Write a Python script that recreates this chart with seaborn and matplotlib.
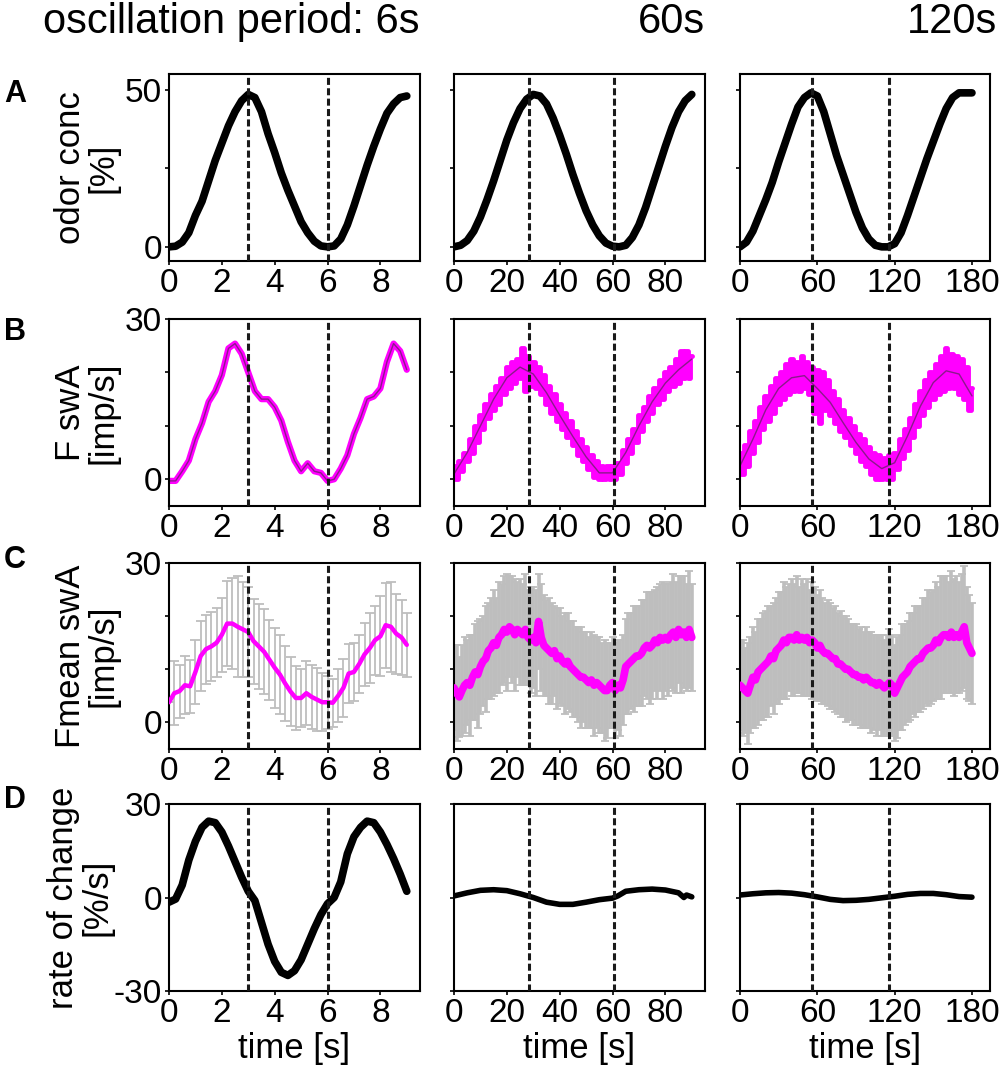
import numpy as np
import pandas as pd
import matplotlib
matplotlib.use("Agg")
import matplotlib.pyplot as plt
import seaborn as sns

# ---------------- data ----------------
col_titles = ["oscillation period: 6s", "60s", "120s"]
row_letters = ["A", "B", "C", "D"]
row_ylabels = ["odor conc\n[%]", "F swA\n[imp/s]", "Fmean swA\n[imp/s]", "rate of change\n[%/s]"]

xticks = [[0, 2, 4, 6, 8], [0, 20, 40, 60, 80], [0, 60, 120, 180]]
xlims = [(0, 9.5), (0, 95), (0, 194)]
dash_x = [[3, 6], [28.5, 60.5], [55.5, 116]]

# A: odor concentration
tA1 = np.arange(0, 9.01, 0.25)
A1 = [0, 0.2, 1.5, 4.5, 10, 14.5, 21, 27.5, 33, 38.5, 43, 46.5, 48.5, 47.5, 43, 36,
      30, 23.5, 18, 13, 8, 4.5, 1.8, 0.3, 0, 0.3, 2.5, 7, 13, 19.5, 26, 32, 37.5, 42.5,
      45.5, 47.5, 48]
tA2 = np.arange(0, 90.01, 2.5)
A2 = [0, 0.5, 2, 5, 9.5, 15, 21, 27.5, 34, 39.5, 44, 47, 48.5, 48, 45.5, 41, 35.5, 29.5,
      23, 17, 11.5, 7, 3.5, 1.2, 0.2, 0, 0.5, 3, 7, 12.5, 19, 25.5, 32, 38, 43, 46.5, 48.5]
tA3 = np.arange(0, 180.01, 5)
A3 = [0, 1.5, 5, 10, 15, 20.5, 27, 33, 39, 44.5, 47.5, 49, 48, 43, 36, 29, 23, 17, 11, 6,
      2.5, 0.5, 0, 0, 1.0, 4.5, 10, 16, 22, 28, 33.5, 39, 44, 47.5, 49, 49, 49]

# B: single fibre response
tB1 = np.arange(0, 9.01, 0.25)
B1 = [-0.3, -0.3, 1.5, 3.5, 7.5, 10.5, 14.5, 16.5, 19.5, 24.5, 25.4, 23.5, 20.0, 16.5,
      15.0, 15.0, 13.5, 11.0, 7.0, 3.5, 1.5, 3.0, 1.5, 1.2, -0.3, 0.0, 2.0, 4.5, 8.5,
      11.5, 15.0, 15.5, 17.0, 22.0, 25.4, 24.0, 20.5]
tB2 = np.arange(0, 90.01, 1)
B2 = [2.5, 0.0, 3.5, 1.5, 5.0, 3.5, 7.5, 5.0, 10.0, 7.0,
      12.0, 9.5, 14.0, 11.5, 16.0, 13.0, 17.5, 14.0, 19.0, 16.0,
      21.0, 17.0, 22.0, 18.0, 22.5, 19.0, 24.5, 16.5, 23.0, 17.5,
      22.0, 17.0, 21.0, 16.0, 19.5, 14.0, 17.5, 12.5, 16.0, 11.0,
      14.0, 9.5, 12.5, 8.0, 11.0, 6.5, 9.0, 4.5, 7.5, 3.5,
      6.0, 2.0, 4.5, 0.5, 3.5, 0.0, 2.5, 0.0, 2.5, 0.0,
      2.5, 0.0, 3.0, 1.0, 5.5, 3.0, 7.5, 5.0, 9.5, 7.0,
      12.0, 9.0, 13.5, 11.0, 15.5, 12.5, 17.0, 14.0, 18.5, 15.0,
      20.0, 16.5, 21.0, 17.5, 22.5, 18.0, 24.0, 19.0, 24.0, 19.0,
      23.0]
tB3 = np.arange(0, 180.01, 2)
B3 = [5.0, 1.0, 6.5, 2.5, 9.0, 5.0, 11.0, 7.0, 13.5, 9.5,
      15.5, 11.0, 17.5, 12.5, 19.0, 14.0, 20.0, 15.0, 21.5, 16.0,
      22.5, 16.5, 22.0, 16.5, 23.0, 17.0, 22.0, 16.0, 21.0, 12.5,
      20.5, 10.5, 20.0, 13.0, 18.5, 12.0, 16.5, 10.5, 15.0, 9.0,
      13.0, 8.0, 11.5, 6.5, 10.0, 5.0, 8.5, 3.5, 7.5, 2.5,
      6.0, 1.0, 5.0, 0.0, 4.5, 0.0, 4.0, 0.0, 4.5, 0.0,
      5.0, 2.0, 7.5, 4.0, 9.5, 5.5, 11.5, 8.0, 14.0, 10.0,
      16.5, 12.0, 18.5, 13.5, 20.0, 15.0, 21.5, 16.0, 23.0, 16.5,
      24.5, 17.0, 23.5, 17.0, 23.0, 16.0, 22.5, 15.0, 21.0, 13.0,
      17.0]
tFit2 = np.arange(0, 90.01, 5)
fit2 = [1.0, 5.0, 10.0, 15.0, 19.0, 21.0, 19.7, 16.2, 12.0, 8.0, 4.2, 1.2, 1.2, 5.0,
        10.0, 14.5, 18.0, 20.5, 22.5]
tFit3 = np.arange(0, 180.01, 10)
fit3 = [2.5, 7.5, 13.0, 17.0, 19.0, 19.4, 17.0, 14.4, 10.6, 6.9, 3.8, 2.0, 3.1, 8.1,
        13.7, 18.1, 20.3, 19.7, 15.6]

# C: mean response +- SD
tC1 = np.arange(0, 9.01, 0.2)
C1 = [3.8, 5.5, 5.9, 7.0, 6.8, 9.5, 12.5, 13.8, 14.3, 15.0, 16.5, 18.6, 18.6, 18.0, 17.5,
      17.0, 15.3, 14.3, 13.3, 11.8, 10.3, 9.0, 7.3, 5.8, 4.6, 4.6, 5.5, 4.8, 4.3, 3.8,
      3.8, 3.7, 5.0, 6.5, 9.2, 9.5, 11.0, 12.8, 14.0, 15.5, 16.2, 18.3, 18.0, 16.7, 16.0, 14.6]
sdC1 = [0, 6, 5, 5.5, 5, 6, 6.5, 6.5, 6.5, 6.5, 7, 8, 8.5, 9.5, 9, 8.5, 8, 8, 8, 7.5,
        7.5, 7.5, 7, 6.5, 6, 5.5, 6, 6, 6, 5.5, 5, 4.5, 5, 5.5, 5.5, 5.5, 5.5, 6, 6.5,
        6.5, 7.5, 8, 8.5, 7.5, 7, 6]
tC2 = np.arange(0, 90.01, 1)
C2 = [6.5, 5.5, 4.8, 6.0, 7.0, 7.5, 7.0, 8.5, 9.5, 9.0,
      10.5, 11.5, 12.0, 13.5, 14.0, 15.0, 14.5, 16.0, 16.5, 17.5,
      17.0, 18.0, 17.5, 16.5, 17.5, 17.0, 16.5, 17.5, 16.0, 15.5,
      16.0, 15.0, 19.0, 16.0, 14.5, 14.0, 13.5, 13.0, 13.5, 12.0,
      12.5, 11.5, 11.0, 11.5, 10.5, 10.0, 9.5, 9.0, 8.5, 8.5,
      8.0, 7.5, 8.0, 7.0, 7.5, 7.0, 6.5, 6.0, 6.0, 7.0,
      7.5, 6.0, 7.0, 6.5, 8.0, 10.5, 11.0, 11.5, 12.0, 12.5,
      12.5, 13.0, 14.0, 14.5, 14.0, 14.5, 15.5, 15.0, 16.0, 15.5,
      16.0, 15.5, 16.5, 17.0, 16.0, 17.5, 16.5, 17.0, 16.0, 17.5,
      16.0]
sdC2 = [8, 9, 7.5, 8.5, 9, 8, 9.5, 8, 9, 10,
        9, 8.5, 10, 9, 9.5, 10, 9, 10.5, 9.5, 10,
        11, 9.5, 10, 10.5, 9, 10, 9.5, 10.5, 9, 10,
        9.5, 10, 9, 10, 9.5, 9, 10, 9.5, 8.5, 9.5,
        9, 8.5, 9.5, 9, 8.5, 9, 8.5, 9, 9.5, 8.5,
        9, 8.5, 9, 9.5, 8.5, 9, 8.5, 9.5, 9, 8,
        8.5, 9, 8.5, 9, 8.5, 9, 9.5, 9, 10, 9.5,
        9.5, 10, 9, 10, 10.5, 10, 9.5, 10.5, 10, 11,
        10, 10.5, 10, 11, 10.5, 10, 11, 10.5, 10, 11,
        10]
tC3 = np.arange(0, 180.01, 2)
C3 = [7.0, 6.5, 6.0, 5.5, 7.0, 8.5, 8.0, 9.5, 10.0, 10.5,
      11.0, 11.5, 12.5, 12.0, 13.5, 14.0, 14.5, 15.5, 15.0, 16.0,
      16.0, 15.5, 16.5, 15.5, 16.0, 15.5, 16.0, 15.0, 15.5, 15.0,
      14.0, 14.5, 13.5, 13.0, 13.0, 12.5, 12.0, 12.0, 11.0, 11.0,
      10.5, 10.0, 10.0, 9.5, 9.0, 9.0, 8.5, 8.5, 8.0, 8.5,
      8.0, 7.5, 7.5, 7.0, 7.5, 7.0, 6.5, 7.0, 7.5, 7.0,
      5.5, 6.5, 7.5, 8.5, 9.0, 9.5, 10.5, 11.0, 11.5, 12.0,
      12.0, 13.0, 13.5, 14.0, 14.0, 14.5, 15.5, 15.0, 16.0, 16.5,
      16.5, 16.0, 17.0, 16.0, 16.5, 16.0, 17.0, 18.0, 15.0, 14.0,
      13.0]
sdC3 = [8.5, 9, 8, 9.5, 9, 9.5, 9, 10, 9.5, 10,
        10, 10.5, 9.5, 10.5, 10, 10.5, 10, 11, 10.5, 10,
        11, 10.5, 11, 10, 11, 10.5, 11, 10, 11, 10.5,
        10, 10.5, 10, 9.5, 10, 10, 9.5, 10, 9.5, 10,
        9.5, 10, 9.5, 9, 9.5, 9.5, 9, 9.5, 9, 9.5,
        9, 9.5, 9, 9.5, 9, 9.5, 9, 9.5, 10, 9.5,
        9, 9.5, 9, 10, 9.5, 9.5, 10, 9.5, 10.5, 10,
        10, 10.5, 10, 11, 10.5, 10.5, 11, 10.5, 11.5, 11,
        11, 10.5, 11.5, 11, 11, 10.5, 11, 11.5, 10.5, 10,
        9.5]

# D: rate of change
tD1 = np.arange(0, 9.01, 0.25)
D1 = [-1.5, -0.5, 4, 12, 18, 22.5, 24.5, 24, 21, 16.5, 11.5, 6.5, 2, -1, -8, -15, -20.5,
      -24, -25, -23.5, -20, -15, -10, -5.5, -2, 0, 5, 14, 19.5, 22.5, 24.5, 24, 21, 17,
      12.5, 7.5, 2]
tD2 = [0, 5, 10, 15, 20, 25, 30, 35, 40, 45, 50, 55, 60, 62, 65, 70, 75, 80, 85, 87, 88, 90]
D2 = [0.5, 1.5, 2.3, 2.5, 2.2, 1.2, 0, -1.5, -2.2, -2.2, -1.5, -0.7, -0.2, 0.5, 2, 2.5,
      2.7, 2.4, 1.5, 0, 0.8, 0.2]
tD3 = np.arange(0, 180.01, 10)
D3 = [0.8, 1.2, 1.5, 1.6, 1.4, 0.9, 0.2, -0.6, -1.0, -0.9, -0.6, -0.1, 0.4, 1.0, 1.3,
      1.3, 0.9, 0.3, 0.1]

# ---------------- styling ----------------
sns.set_theme(style="white")
plt.rcParams['font.family'] = ['Liberation Sans', 'DejaVu Sans']
plt.rcParams['text.color'] = 'black'
plt.rcParams['axes.labelcolor'] = 'black'
plt.rcParams['xtick.color'] = 'black'
plt.rcParams['ytick.color'] = 'black'
plt.rcParams['axes.edgecolor'] = 'black'
plt.rcParams['axes.linewidth'] = 1.5

MAG = '#FF00FF'
FIT = '#8B1A8B'
GREY = '#BEBEBE'

W, H = 1004, 1072
fig = plt.figure(figsize=(W / 100, H / 100), dpi=100)

cols_px = [(169, 420), (454, 705), (740, 990)]
rows_px = [(74, 261), (319, 506), (563, 749), (804, 991)]

ylims = [(-4.5, 55), (-5, 30), (-5, 30), (-30, 30)]
yticks = [[0, 25, 50], [0, 10, 20, 30], [0, 10, 20, 30], [-30, 0, 30]]
yticklabels = [['0', '', '50'], ['0', '', '', '30'], ['0', '', '', '30'], ['-30', '0', '30']]
ylabel_x = [-0.196, -0.196, -0.196, -0.222]

tA = [tA1, tA2, tA3]; A = [A1, A2, A3]
tB = [tB1, tB2, tB3]; B = [B1, B2, B3]
tFit = [tB1, tFit2, tFit3]; FITS = [B1, fit2, fit3]
tC = [tC1, tC2, tC3]; C = [C1, C2, C3]; SDC = [sdC1, sdC2, sdC3]
tD = [tD1, tD2, tD3]; D = [D1, D2, D3]

for r in range(4):
    for c in range(3):
        l, rr = cols_px[c]
        t, b = rows_px[r]
        ax = fig.add_axes([l / W, 1 - b / H, (rr - l) / W, (b - t) / H])
        if r == 0:
            sns.lineplot(x=tA[c], y=A[c], ax=ax, color='black', lw=5.5,
                         estimator=None, sort=False, solid_capstyle='round')
        elif r == 1:
            if c == 0:
                sns.lineplot(x=tB[c], y=B[c], ax=ax, color=MAG, lw=4.5,
                             estimator=None, sort=False)
            else:
                sns.lineplot(x=tB[c], y=B[c], ax=ax, color=MAG, lw=3.5,
                             estimator=None, sort=False, drawstyle='steps-mid')
            sns.lineplot(x=tFit[c], y=FITS[c], ax=ax, color=FIT, lw=1.0,
                         estimator=None, sort=False)
        elif r == 2:
            if c == 0:
                ax.errorbar(tC[c], C[c], yerr=SDC[c], fmt='none', ecolor=GREY,
                            elinewidth=1.3, capsize=3.5, capthick=1.3, zorder=1)
                sns.lineplot(x=tC[c], y=C[c], ax=ax, color=MAG, lw=3.2,
                             estimator=None, sort=False, zorder=3)
            else:
                ax.errorbar(tC[c], C[c], yerr=SDC[c], fmt='none', ecolor=GREY,
                            elinewidth=2.6, capsize=3, capthick=1.3, zorder=1)
                sns.lineplot(x=tC[c], y=C[c], ax=ax, color=MAG, lw=5.5,
                             estimator=None, sort=False, zorder=3)
        else:
            sns.lineplot(x=tD[c], y=D[c], ax=ax, color='black',
                         lw=5.5 if c == 0 else 4.0,
                         estimator=None, sort=False, solid_capstyle='round')

        for xv in dash_x[c]:
            ax.axvline(xv, color='#1a1a1a', lw=2.2, ls=(0, (2.3, 1.1)), zorder=5)

        ax.set_xlim(*xlims[c])
        ax.set_ylim(*ylims[r])
        ax.set_xticks(xticks[c])
        ax.set_xticklabels([str(v) for v in xticks[c]])
        ax.set_yticks(yticks[r])
        if c == 0:
            ax.set_yticklabels(yticklabels[r])
            ax.set_ylabel(row_ylabels[r], fontsize=25, linespacing=1.0)
            ax.yaxis.set_label_coords(ylabel_x[r], 0.5)
        else:
            ax.set_yticklabels([])
            ax.set_ylabel('')
        if r == 3:
            ax.set_xlabel('time [s]', fontsize=25)
            ax.xaxis.set_label_coords(0.5, -0.22)
        else:
            ax.set_xlabel('')
        ax.tick_params(axis='both', which='major', direction='out', length=3,
                       width=1.2, pad=2, labelsize=24, left=True, bottom=True,
                       colors='black')
        for s in ax.spines.values():
            s.set_visible(True)
            s.set_linewidth(1.5)
            s.set_color('black')
        ax.set_facecolor('white')

# column titles
title_right = [420, 705, 997]
for c, txt in enumerate(col_titles):
    fig.text(title_right[c] / W, 1 - 33 / H, txt, ha='right', va='baseline',
             fontsize=30, color='black')

# row letters
letter_y = [94, 332, 560, 800]
for r, let in enumerate(row_letters):
    fig.text(15 / W, 1 - letter_y[r] / H, let, ha='center', va='center',
             fontsize=22, fontweight='bold', color='black')

fig.savefig('out.png', dpi=100)
